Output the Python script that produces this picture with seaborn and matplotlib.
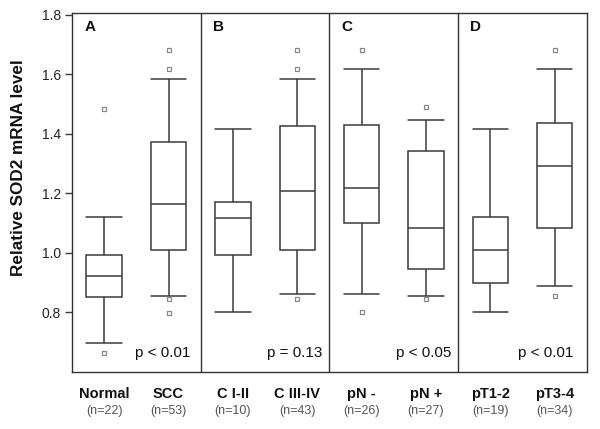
import numpy as np
import pandas as pd
import matplotlib
matplotlib.use("Agg")
import matplotlib.pyplot as plt
import matplotlib.transforms as mtransforms
import seaborn as sns

# ---- data ----
groups = ["Normal", "SCC", "C I-II", "C III-IV", "pN -", "pN +", "pT1-2", "pT3-4"]
n_labels = ["(n=22)", "(n=53)", "(n=10)", "(n=43)", "(n=26)", "(n=27)", "(n=19)", "(n=34)"]
whisker_low = [0.696, 0.856, 0.802, 0.862, 0.862, 0.855, 0.802, 0.887]
q1 = [0.852, 1.008, 0.991, 1.008, 1.100, 0.946, 0.897, 1.083]
median = [0.922, 1.165, 1.116, 1.209, 1.217, 1.082, 1.009, 1.293]
q3 = [0.993, 1.374, 1.170, 1.428, 1.430, 1.344, 1.121, 1.436]
whisker_high = [1.121, 1.583, 1.415, 1.583, 1.617, 1.447, 1.415, 1.617]
outliers = {
    "Normal": [1.482, 0.663],
    "SCC": [1.683, 1.617, 0.844, 0.799],
    "C I-II": [],
    "C III-IV": [1.683, 1.617, 0.846],
    "pN -": [1.683, 0.800],
    "pN +": [1.492, 0.844],
    "pT1-2": [],
    "pT3-4": [1.683, 0.856],
}
panel_letters = ["A", "B", "C", "D"]
p_values = ["p < 0.01", "p = 0.13", "p < 0.05", "p < 0.01"]
y_ticks = [0.8, 1.0, 1.2, 1.4, 1.6, 1.8]

# five-number summaries as long table
rows = []
for i, g in enumerate(groups):
    for v in (whisker_low[i], q1[i], median[i], q3[i], whisker_high[i]):
        rows.append({"group": g, "value": v})
box_df = pd.DataFrame(rows)
out_rows = [{"group": g, "value": v} for g in groups for v in outliers[g]]
out_df = pd.DataFrame(out_rows)

sns.set_style("white")
plt.rcParams["font.family"] = ["Liberation Sans", "DejaVu Sans"]

fig = plt.figure(figsize=(6.0, 4.29), dpi=100)
ax = fig.add_axes([0.12, 0.1336, 0.858, 0.835])

line_col = "#3a3a3a"
box_w = 0.55
sns.boxplot(data=box_df, x="group", y="value", order=groups, whis=(0, 100),
            width=box_w, color="white", linecolor=line_col, linewidth=1.1,
            showfliers=False, ax=ax, capwidths=box_w)
sns.stripplot(data=out_df, x="group", y="value", order=groups, jitter=False,
              marker="s", size=3.4, color="white", edgecolor="#8a8a8a",
              linewidth=0.9, ax=ax, zorder=5)

ax.set_xlim(-0.5, 7.5)
ax.set_ylim(0.6, 1.805)
ax.set_yticks(y_ticks)
ax.set_yticklabels([f"{t:.1f}" for t in y_ticks], fontsize=10, color="#222222")
ax.set_xticks([])
ax.set_xlabel("")
ax.set_ylabel("Relative SOD2 mRNA level", fontsize=12.3, fontweight="bold", color="#111111")
ax.yaxis.set_label_coords(-0.09, 0.57)
ax.tick_params(axis="y", direction="out", length=5, width=1, color=line_col, pad=3, left=True)

for s in ax.spines.values():
    s.set_color("#333333")
    s.set_linewidth(1.0)

for xs in (1.5, 3.5, 5.5):
    ax.axvline(xs, color="#333333", lw=1.0)

starts = [-0.5, 1.5, 3.5, 5.5]
for st, letter in zip(starts, panel_letters):
    ax.text(st + 0.19, 1.758, letter, fontsize=11, fontweight="bold",
            ha="left", va="center", color="#111111")

p_right = [1.341, 3.387, 5.39, 7.295]
for xr, pv in zip(p_right, p_values):
    ax.text(xr, 0.664, pv, fontsize=11, ha="right", va="center", color="#111111")

trans = mtransforms.blended_transform_factory(ax.transData, ax.transAxes)
for i, (g, n) in enumerate(zip(groups, n_labels)):
    ax.text(i, -0.063, g, transform=trans, fontsize=10.5, fontweight="bold",
            ha="center", va="center", color="#111111")
    ax.text(i, -0.110, n, transform=trans, fontsize=9, ha="center",
            va="center", color="#555555")

fig.savefig("out.png", dpi=100)
